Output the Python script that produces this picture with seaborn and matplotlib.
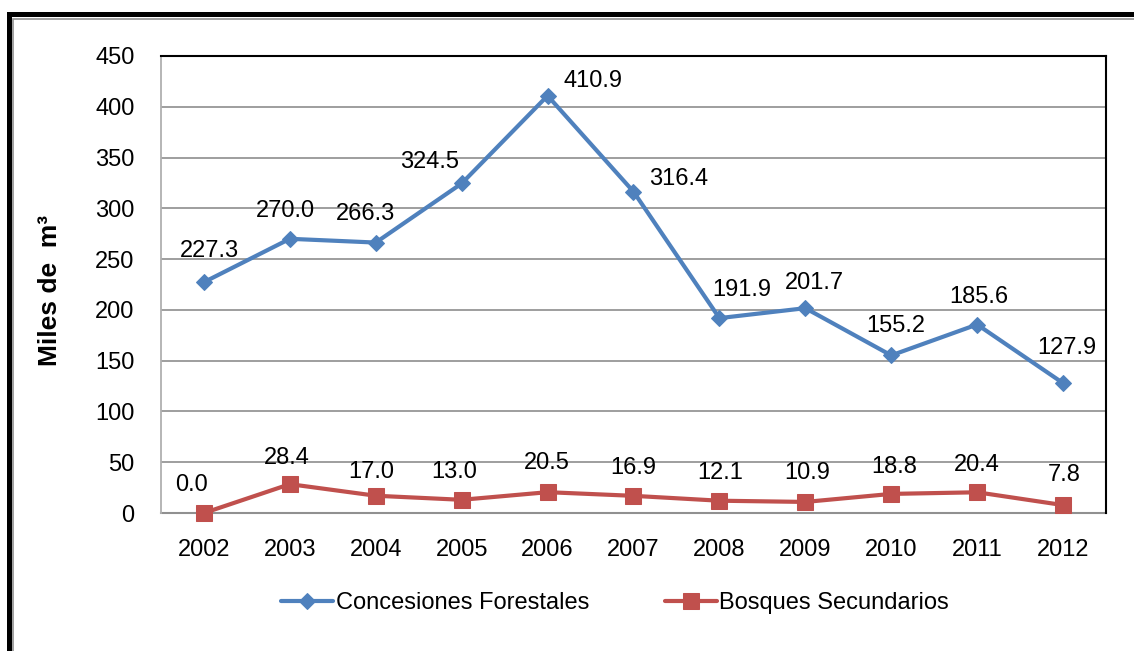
import matplotlib
matplotlib.use("Agg")
import matplotlib.pyplot as plt
import seaborn as sns
import pandas as pd
from matplotlib.patches import Rectangle

# data
years = [2002, 2003, 2004, 2005, 2006, 2007, 2008, 2009, 2010, 2011, 2012]
concesiones = [227.3, 270.0, 266.3, 324.5, 410.9, 316.4, 191.9, 201.7, 155.2, 185.6, 127.9]
bosques = [0.0, 28.4, 17.0, 13.0, 20.5, 16.9, 12.1, 10.9, 18.8, 20.4, 7.8]
series_names = ["Concesiones Forestales", "Bosques Secundarios"]
y_label = "Miles de  m³"

# label offsets in pixels (dx, dy) relative to each point
conc_offsets = [(5, 31), (-4, 28), (-10, 29), (-32, 21), (45, 15), (45, 13),
                (22, 28), (9, 25), (5, 29), (2, 28), (4, 35)]
bosq_offsets = [(-12, 28), (-3, 26), (-5, 24), (-7, 28), (-1, 29), (0, 28),
                (1, 28), (2, 29), (3, 27), (0, 27), (1, 30)]

sns.set_style("white")
plt.rcParams['font.family'] = ['Liberation Sans', 'DejaVu Sans']
plt.rcParams['text.color'] = 'black'
plt.rcParams['xtick.labelcolor'] = 'black'
plt.rcParams['ytick.labelcolor'] = 'black'
fs = 17

df_c = pd.DataFrame({'year': years, 'value': concesiones})
df_b = pd.DataFrame({'year': years, 'value': bosques})

fig = plt.figure(figsize=(11.34, 6.51), dpi=100)
ax = fig.add_axes([161/1134, 1-513/651, (1106-161)/1134, (513-56)/651])

sns.lineplot(data=df_c, x='year', y='value', ax=ax, color='#4F81BD', lw=3,
             marker='D', markersize=8.5, markeredgecolor='#4F81BD', label=series_names[0],
             clip_on=False)
sns.lineplot(data=df_b, x='year', y='value', ax=ax, color='#C0504D', lw=3,
             marker='s', markersize=12, markeredgecolor='#C0504D', label=series_names[1],
             clip_on=False)

px = 0.72
for x, v, (dx, dy) in zip(years, concesiones, conc_offsets):
    ax.annotate(f"{v:.1f}", (x, v), xytext=(dx*px, dy*px), textcoords='offset points',
                ha='center', va='center', fontsize=fs)
for x, v, (dx, dy) in zip(years, bosques, bosq_offsets):
    ax.annotate(f"{v:.1f}", (x, v), xytext=(dx*px, dy*px), textcoords='offset points',
                ha='center', va='center', fontsize=fs)

ax.set_xlim(2001.5, 2012.5)
ax.set_ylim(0, 450)
ax.set_yticks(range(0, 451, 50))
ax.set_xticks(years)
ax.set_xticks([y - 0.5 for y in years] + [2012.5], minor=True)
ax.tick_params(axis='x', which='major', length=0, pad=19, labelsize=fs)
ax.tick_params(axis='x', which='minor', length=6, width=1.2, color='#909090', direction='out')
ax.tick_params(axis='y', length=6, width=1.2, color='#b0b0b0', direction='out', pad=13, labelsize=fs)
ax.grid(axis='y', color='#969696', lw=1.3)
ax.set_axisbelow(True)
ax.set_xlabel('')
ax.set_ylabel('')

for s in ['top', 'right']:
    ax.spines[s].set_color('black')
    ax.spines[s].set_linewidth(1.5)
ax.spines['left'].set_color('#b0b0b0')
ax.spines['left'].set_linewidth(1.3)
ax.spines['bottom'].set_color('#909090')
ax.spines['bottom'].set_linewidth(1.5)
ax.spines['bottom'].set_zorder(1)

fig.text(50/1134, 1-290/651, y_label, rotation=90, ha='center', va='center',
         fontsize=19, fontweight='bold')

ax.legend_.remove()
handles, labels = ax.get_legend_handles_labels()
fig.legend(handles, labels, loc='center', bbox_to_anchor=(615/1134, 1-603/651), ncol=2,
           frameon=False, fontsize=fs, handlelength=2.2, handletextpad=0.1,
           columnspacing=3.2)

# outer frame (cut off at right and bottom)
fig.patches.append(Rectangle((8.5/1134, -0.1), 1.2, (651-14)/651 + 0.1, transform=fig.transFigure,
                             fill=False, edgecolor='black', lw=3.6, clip_on=False))
fig.patches.append(Rectangle((12.5/1134, -0.1), 1.2, (651-18.5)/651 + 0.1, transform=fig.transFigure,
                             fill=False, edgecolor='#909090', lw=1.2, clip_on=False))

plt.savefig('out.png', dpi=100)
plt.close()
